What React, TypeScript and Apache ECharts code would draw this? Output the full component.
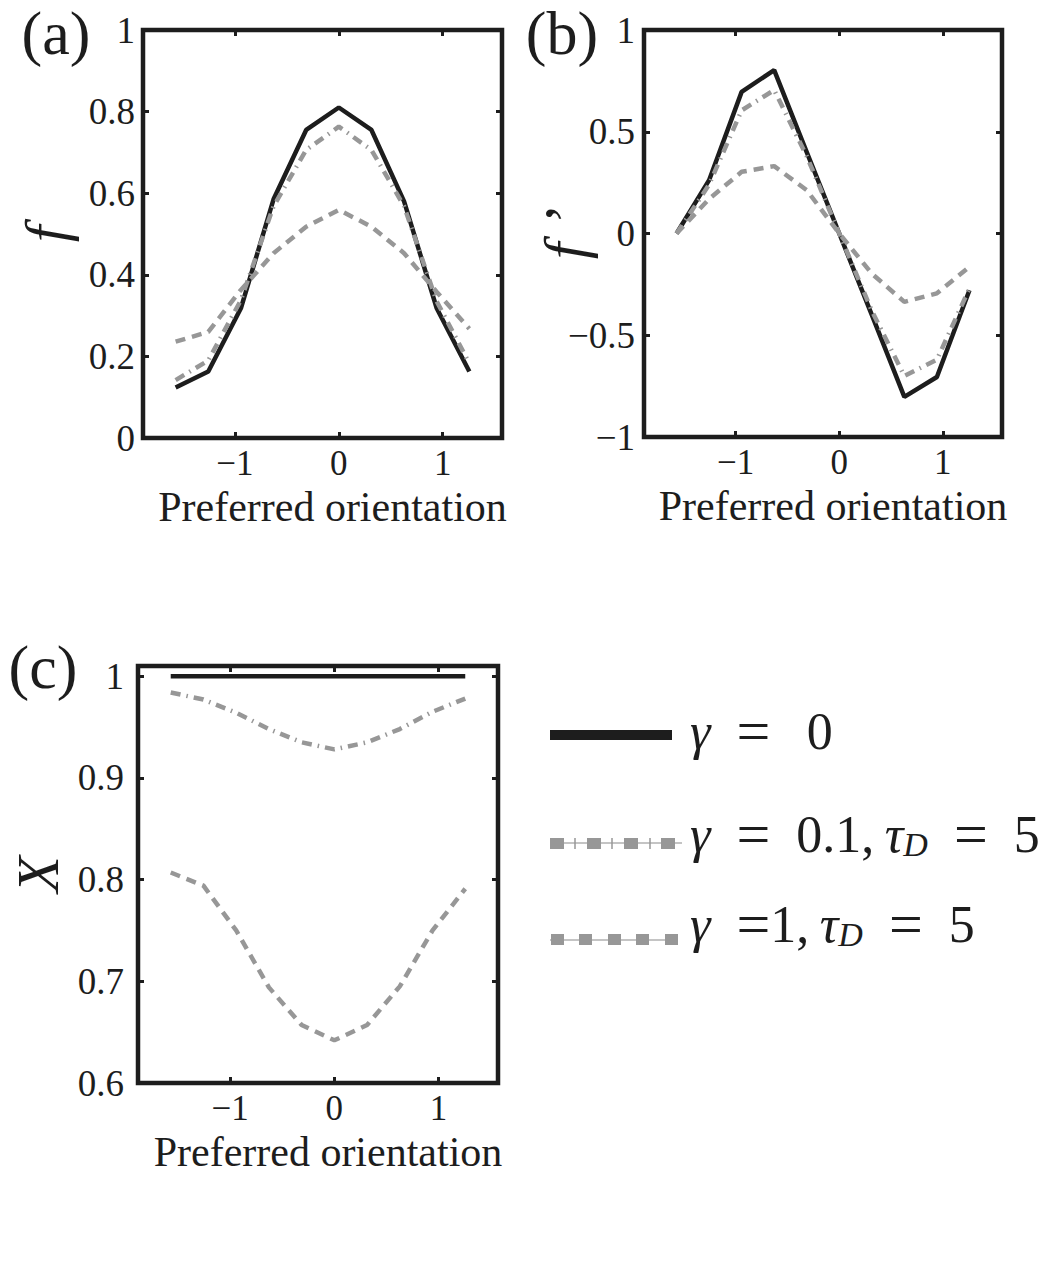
import React, { useEffect, useRef } from "react";
import * as echarts from "echarts";

// ---------- data ----------
const orientation = [-1.5708, -1.2566, -0.9425, -0.6283, -0.3142, 0, 0.3142, 0.6283, 0.9425, 1.2566];

// (a) tuning curve f
const fGamma0 = [0.124, 0.163, 0.318, 0.585, 0.755, 0.81, 0.755, 0.58, 0.318, 0.163];
const fGamma01 = [0.142, 0.19, 0.338, 0.568, 0.706, 0.763, 0.706, 0.568, 0.335, 0.183];
const fGamma1 = [0.236, 0.26, 0.363, 0.453, 0.518, 0.559, 0.518, 0.453, 0.358, 0.268];

// (b) derivative f'
const dfGamma0 = [0, 0.262, 0.696, 0.803, 0.4, 0, -0.4, -0.803, -0.705, -0.279];
const dfGamma01 = [0, 0.24, 0.605, 0.705, 0.38, 0, -0.38, -0.7, -0.62, -0.27];
const dfGamma1 = [0, 0.17, 0.303, 0.331, 0.213, 0.0, -0.197, -0.336, -0.294, -0.164];

// (c) X
const xGamma0 = [1.0, 1.0, 1.0, 1.0, 1.0, 1.0, 1.0, 1.0, 1.0, 1.0];
const xGamma01 = [0.984, 0.977, 0.964, 0.948, 0.935, 0.928, 0.935, 0.948, 0.965, 0.978];
const xGamma1 = [0.807, 0.794, 0.75, 0.694, 0.657, 0.642, 0.657, 0.695, 0.75, 0.791];

// ticks
const orientationTicks = [-1, 0, 1];
const fTicks = [0, 0.2, 0.4, 0.6, 0.8, 1];
const dfTicks = [-1, -0.5, 0, 0.5, 1];
const xTicks = [0.6, 0.7, 0.8, 0.9, 1];

const orientationRange = [-1.885, 1.571];
const fRange = [0, 1];
const dfRange = [-1, 1];
const xRange = [0.6, 1.01];

const xAxisTitle = "Preferred orientation";
const yTitles = ["f", "f \u2019", "X"];
const panelLabels = ["(a)", "(b)", "(c)"];

// ---------- styles ----------
const FONT = "'Liberation Serif', 'Times New Roman', serif";
const INK = "#1d1d1d";
const GREY = "#979797";

const fmt = (v: number) => {
  const r = Math.round(v * 10) / 10;
  return (r < 0 ? "\u2212" : "") + String(Math.abs(r));
};

const pair = (ys: number[]) => orientation.map((x, i) => [x, ys[i]]);

export default function App() {
  const ref = useRef<HTMLDivElement>(null);

  useEffect(() => {
    document.body.style.margin = "0";
    const chart = echarts.init(ref.current!, null, { renderer: "svg" });

    const grids = [
      { left: 143, top: 30, width: 359, height: 408 },
      { left: 644, top: 30, width: 358, height: 407 },
      { left: 138, top: 666, width: 360, height: 417 },
    ];
    const yRanges = [fRange, dfRange, xRange];
    const yTickSets = [fTicks, dfTicks, xTicks];
    const yNameGaps = [67, 49, 70];
    const yLabelMargins = [8, 9, 14];
    const dataSets = [
      [fGamma0, fGamma01, fGamma1],
      [dfGamma0, dfGamma01, dfGamma1],
      [xGamma0, xGamma01, xGamma1],
    ];

    const tick = (vals: number[]) => ({
      inside: true,
      length: 6,
      customValues: vals,
      lineStyle: { color: INK, width: 3 },
    });

    const xAxes: any[] = [];
    const yAxes: any[] = [];
    const series: any[] = [];

    grids.forEach((g, gi) => {
      xAxes.push({
        type: "value",
        gridIndex: gi,
        position: "bottom",
        min: orientationRange[0],
        max: orientationRange[1],
        axisLine: { show: false, onZero: false },
        splitLine: { show: false },
        axisTick: tick(orientationTicks),
        axisLabel: {
          customValues: orientationTicks,
          formatter: fmt,
          fontFamily: FONT,
          fontSize: 35,
          color: INK,
          margin: 8,
        },
        name: xAxisTitle,
        nameLocation: "middle",
        nameGap: 48,
        nameMoveOverlap: false,
        nameTextStyle: {
          fontFamily: FONT,
          fontSize: 42,
          color: INK,
          padding: [0, 0, 0, 20],
        },
      });
      xAxes.push({
        type: "value",
        gridIndex: gi,
        position: "top",
        min: orientationRange[0],
        max: orientationRange[1],
        axisLine: { show: false, onZero: false },
        splitLine: { show: false },
        axisTick: tick(orientationTicks),
        axisLabel: { show: false },
      });
      yAxes.push({
        type: "value",
        gridIndex: gi,
        position: "left",
        min: yRanges[gi][0],
        max: yRanges[gi][1],
        axisLine: { show: false, onZero: false },
        splitLine: { show: false },
        axisTick: tick(yTickSets[gi]),
        axisLabel: {
          customValues: yTickSets[gi],
          formatter: fmt,
          fontFamily: FONT,
          fontSize: 37,
          color: INK,
          margin: yLabelMargins[gi],
        },
        name: yTitles[gi],
        nameLocation: "middle",
        nameRotate: 90,
        nameGap: yNameGaps[gi],
        nameMoveOverlap: false,
        nameTextStyle: {
          fontFamily: FONT,
          fontStyle: "italic",
          fontSize: 60,
          color: INK,
        },
      });
      yAxes.push({
        type: "value",
        gridIndex: gi,
        position: "right",
        min: yRanges[gi][0],
        max: yRanges[gi][1],
        axisLine: { show: false, onZero: false },
        splitLine: { show: false },
        axisTick: tick(yTickSets[gi]),
        axisLabel: { show: false },
      });

      const [s0, s1, s2] = dataSets[gi];
      const xi = gi * 2;
      const yi = gi * 2;
      series.push({
        type: "line",
        xAxisIndex: xi,
        yAxisIndex: yi,
        data: pair(s0),
        symbol: "none",
        lineStyle: { color: INK, width: 4.5 },
        z: 3,
      });
      series.push({
        type: "line",
        xAxisIndex: xi,
        yAxisIndex: yi,
        data: pair(s1),
        symbol: "none",
        lineStyle: { color: GREY, width: 4.5, type: [10, 6, 1.5, 6], cap: "butt" },
        z: 4,
      });
      series.push({
        type: "line",
        xAxisIndex: xi,
        yAxisIndex: yi,
        data: pair(s2),
        symbol: "none",
        lineStyle: { color: GREY, width: 4.5, type: [10, 7], cap: "butt" },
        z: 5,
      });
    });

    const labelPos = [
      [56, 33],
      [562, 33],
      [43, 667],
    ];

    const graphics: any[] = panelLabels.map((t, i) => ({
      type: "text",
      x: labelPos[i][0],
      y: labelPos[i][1],
      style: {
        text: t,
        fontFamily: FONT,
        fontSize: 62,
        fill: INK,
        align: "center",
        verticalAlign: "middle",
      },
    }));

    const rich = {
      i: { fontFamily: FONT, fontStyle: "italic", fontSize: 52, fill: INK },
      e: { fontFamily: FONT, fontSize: 60, fill: INK },
      s: { fontFamily: FONT, fontStyle: "italic", fontSize: 34, fill: INK, padding: [20, 0, 0, 0] },
    };
    const legendText = [
      "{i|\u03b3}\u2002{e|=}\u2002\u20090",
      "{i|\u03b3}\u2002{e|=}\u20020.1,\u2009{i|\u03c4}{s|D}\u2002{e|=}\u20025",
      "{i|\u03b3}\u2002{e|=}1,\u2009{i|\u03c4}{s|D}\u2002{e|=}\u20025",
    ];
    const legendY = [731, 834, 924];
    legendText.forEach((t, i) => {
      graphics.push({
        type: "text",
        x: 690,
        y: legendY[i],
        style: {
          text: t,
          rich,
          fontFamily: FONT,
          fontSize: 52,
          fill: INK,
          align: "left",
          verticalAlign: "middle",
        },
      });
    });
    graphics.push({
      type: "line",
      shape: { x1: 550, y1: 735, x2: 672, y2: 735 },
      style: { stroke: INK, lineWidth: 10 },
    });
    graphics.push({
      type: "line",
      shape: { x1: 550, y1: 843, x2: 682, y2: 843 },
      style: { stroke: "#b0b0b0", lineWidth: 1.5 },
    });
    [550, 587, 624, 661].forEach((x) =>
      graphics.push({ type: "rect", shape: { x, y: 838, width: 14, height: 11 }, style: { fill: GREY } })
    );
    [575, 612, 650].forEach((x) =>
      graphics.push({
        type: "line",
        shape: { x1: x, y1: 838, x2: x, y2: 849 },
        style: { stroke: GREY, lineWidth: 1.5 },
      })
    );
    graphics.push({
      type: "line",
      shape: { x1: 550, y1: 940, x2: 677, y2: 940 },
      style: { stroke: "#b0b0b0", lineWidth: 1.5 },
    });
    [551, 579, 608, 636, 665].forEach((x) =>
      graphics.push({ type: "rect", shape: { x, y: 934, width: 13, height: 11 }, style: { fill: GREY } })
    );

    chart.setOption({
      animation: false,
      backgroundColor: "#ffffff",
      grid: grids.map((g) => ({
        ...g,
        show: true,
        borderColor: INK,
        borderWidth: 4.5,
        backgroundColor: "transparent",
        containLabel: false,
      })),
      xAxis: xAxes,
      yAxis: yAxes,
      series,
      graphic: graphics,
    });

    return () => chart.dispose();
  }, []);

  return <div ref={ref} style={{ width: 1049, height: 1268 }} />;
}
